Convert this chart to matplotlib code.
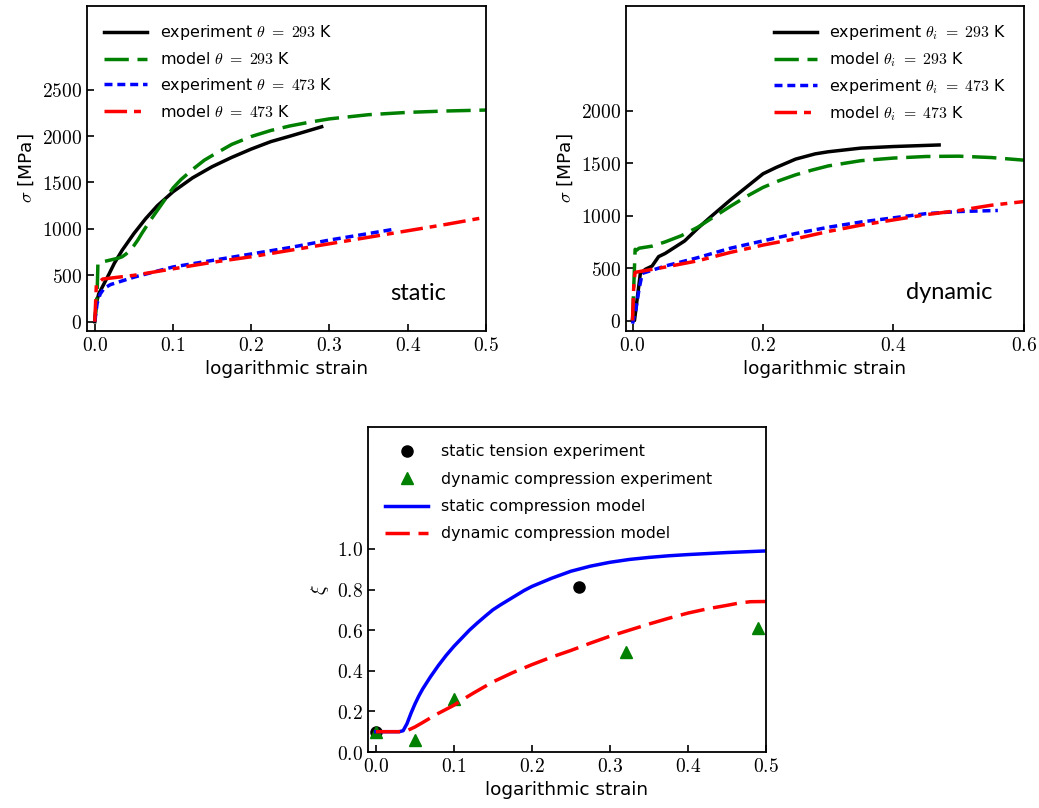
import numpy as np
import matplotlib
matplotlib.use('Agg')
import matplotlib.pyplot as plt
from matplotlib.ticker import FuncFormatter

plt.rcParams['mathtext.fontset'] = 'cm'
plt.rcParams['font.family'] = 'DejaVu Sans'

# static, 293 K
st_exp293_x = [0.0, 0.002, 0.005, 0.01, 0.018, 0.025, 0.035, 0.05, 0.065, 0.08, 0.1, 0.125, 0.15, 0.175, 0.2, 0.225, 0.25, 0.27, 0.29]
st_exp293_y = [0, 200, 300, 380, 510, 630, 770, 950, 1110, 1250, 1400, 1550, 1670, 1770, 1860, 1940, 2000, 2050, 2100]
st_mod293_x = [0.0, 0.003, 0.004, 0.01, 0.02, 0.03, 0.035, 0.04, 0.045, 0.05, 0.055, 0.06, 0.07, 0.08, 0.09, 0.1, 0.11, 0.125, 0.14, 0.15, 0.175, 0.2, 0.225, 0.25, 0.275, 0.3, 0.35, 0.4, 0.45, 0.5]
st_mod293_y = [0, 300, 630, 645, 665, 685, 700, 730, 770, 820, 880, 950, 1080, 1200, 1320, 1440, 1530, 1640, 1740, 1790, 1910, 1995, 2060, 2110, 2150, 2185, 2230, 2255, 2270, 2280]
# static, 473 K
st_exp473_x = [0.0, 0.003, 0.007, 0.012, 0.02, 0.05, 0.1, 0.15, 0.2, 0.25, 0.3, 0.35, 0.385]
st_exp473_y = [0, 200, 300, 360, 400, 480, 590, 660, 730, 800, 880, 950, 1000]
st_mod473_x = [0.0, 0.002, 0.01, 0.05, 0.1, 0.15, 0.2, 0.25, 0.3, 0.35, 0.4, 0.45, 0.5]
st_mod473_y = [0, 400, 460, 500, 570, 640, 700, 770, 840, 910, 980, 1050, 1126]

# dynamic, 293 K
dy_exp293_x = [0.0, 0.003, 0.008, 0.012, 0.02, 0.03, 0.04, 0.05, 0.07, 0.08, 0.1, 0.12, 0.15, 0.18, 0.2, 0.22, 0.25, 0.28, 0.3, 0.35, 0.4, 0.47]
dy_exp293_y = [0, 0, 250, 450, 490, 520, 610, 640, 720, 760, 880, 990, 1150, 1300, 1400, 1460, 1540, 1590, 1610, 1645, 1660, 1675]
dy_mod293_x = [0.0, 0.004, 0.006, 0.01, 0.03, 0.05, 0.075, 0.1, 0.125, 0.15, 0.175, 0.2, 0.225, 0.25, 0.275, 0.3, 0.35, 0.4, 0.45, 0.5, 0.55, 0.6]
dy_mod293_y = [0, 680, 670, 690, 710, 750, 810, 890, 990, 1090, 1185, 1270, 1335, 1390, 1435, 1475, 1525, 1550, 1565, 1568, 1555, 1530]
# dynamic, 473 K
dy_exp473_x = [0.0, 0.005, 0.01, 0.015, 0.03, 0.05, 0.1, 0.15, 0.2, 0.25, 0.3, 0.35, 0.4, 0.45, 0.5, 0.56]
dy_exp473_y = [-30, 100, 300, 450, 480, 520, 600, 690, 760, 830, 890, 940, 980, 1020, 1040, 1050]
dy_mod473_x = [0.0, 0.002, 0.004, 0.05, 0.1, 0.15, 0.2, 0.25, 0.3, 0.35, 0.4, 0.45, 0.5, 0.55, 0.6]
dy_mod473_y = [0, 350, 460, 510, 570, 650, 720, 780, 850, 910, 960, 1010, 1050, 1100, 1135]

# phase fraction xi
tens_exp_x = [0.0, 0.26]
tens_exp_y = [0.1, 0.81]
dyn_exp_x = [0.0, 0.05, 0.1, 0.32, 0.49]
dyn_exp_y = [0.1, 0.06, 0.26, 0.49, 0.61]
st_model_x = [0.0, 0.03, 0.035, 0.04, 0.045, 0.05, 0.055, 0.06, 0.07, 0.08, 0.09, 0.1, 0.11, 0.12, 0.13, 0.14, 0.15, 0.16,
              0.175, 0.19, 0.2, 0.225, 0.25, 0.275, 0.3, 0.325, 0.35, 0.375, 0.4, 0.425, 0.45, 0.475, 0.5]
st_model_y = [0.1, 0.1, 0.105, 0.14, 0.19, 0.235, 0.275, 0.31, 0.37, 0.425, 0.475, 0.52, 0.56, 0.6, 0.635, 0.668, 0.70, 0.725,
              0.76, 0.795, 0.815, 0.855, 0.89, 0.915, 0.934, 0.948, 0.958, 0.966, 0.972, 0.977, 0.982, 0.986, 0.99]
dy_model_x = [0.0, 0.035, 0.04, 0.05, 0.06, 0.07, 0.08, 0.09, 0.1, 0.11, 0.125, 0.15, 0.175, 0.2, 0.225, 0.25, 0.275,
              0.3, 0.325, 0.35, 0.375, 0.4, 0.425, 0.45, 0.465, 0.48, 0.5]
dy_model_y = [0.1, 0.1, 0.105, 0.123, 0.145, 0.168, 0.19, 0.21, 0.23, 0.255, 0.29, 0.345, 0.39, 0.43, 0.467, 0.50, 0.536,
              0.57, 0.60, 0.63, 0.658, 0.684, 0.705, 0.722, 0.733, 0.74, 0.741]

fig = plt.figure(figsize=(10.39, 8.08), dpi=100)
ax1 = fig.add_axes([0.0837, 0.5903, 0.384, 0.4022])
ax2 = fig.add_axes([0.6025, 0.5903, 0.383, 0.4022])
ax3 = fig.add_axes([0.3542, 0.0693, 0.383, 0.4022])


def fmt_int(v, pos):
    return r'$%d$' % v


def fmt_1(v, pos):
    return r'$%.1f$' % v


def style(ax):
    ax.tick_params(direction='in', length=5, width=1.2, labelsize=14, top=False, right=False)
    for s in ax.spines.values():
        s.set_linewidth(1.3)
    ax.set_xlabel('logarithmic strain', fontsize=13.3)


leg_kw = dict(frameon=False, fontsize=11.4, handlelength=2.7, borderaxespad=0.7)
lw = 2.5
d_green = (7, 2.5)
d_blue = (2.3, 1.4)
d_red = (6.5, 2, 2, 2)

# static
ax1.plot(st_exp293_x, st_exp293_y, color='black', lw=lw, label=r'experiment $\theta\ =\ 293$ K')
ax1.plot(st_mod293_x, st_mod293_y, color='green', lw=lw, dashes=d_green, label=r'model $\theta\ =\ 293$ K')
ax1.plot(st_exp473_x, st_exp473_y, color='blue', lw=lw, dashes=d_blue, label=r'experiment $\theta\ =\ 473$ K')
ax1.plot(st_mod473_x, st_mod473_y, color='red', lw=lw, dashes=d_red, label=r'model $\theta\ =\ 473$ K')
ax1.set_xlim(-0.01, 0.5)
ax1.set_ylim(-100, 3400)
ax1.set_xticks([0.0, 0.1, 0.2, 0.3, 0.4, 0.5])
ax1.set_yticks([0, 500, 1000, 1500, 2000, 2500])
ax1.xaxis.set_major_formatter(FuncFormatter(fmt_1))
ax1.yaxis.set_major_formatter(FuncFormatter(fmt_int))
ax1.set_ylabel(r'$\sigma$ [MPa]', fontsize=13.3)
style(ax1)
ax1.legend(loc='upper left', labelspacing=0.55, **leg_kw)
ax1.text(0.9, 0.115, 'static', transform=ax1.transAxes, ha='right', va='center',
         fontsize=17, family='Lato')

# dynamic
ax2.plot(dy_exp293_x, dy_exp293_y, color='black', lw=lw, label=r'experiment $\theta_i\ =\ 293$ K')
ax2.plot(dy_mod293_x, dy_mod293_y, color='green', lw=lw, dashes=d_green, label=r'model $\theta_i\ =\ 293$ K')
ax2.plot(dy_exp473_x, dy_exp473_y, color='blue', lw=lw, dashes=d_blue, label=r'experiment $\theta_i\ =\ 473$ K')
ax2.plot(dy_mod473_x, dy_mod473_y, color='red', lw=lw, dashes=d_red, label=r'model $\theta_i\ =\ 473$ K')
ax2.set_xlim(-0.01, 0.6)
ax2.set_ylim(-100, 3000)
ax2.set_xticks([0.0, 0.2, 0.4, 0.6])
ax2.set_yticks([0, 500, 1000, 1500, 2000])
ax2.xaxis.set_major_formatter(FuncFormatter(fmt_1))
ax2.yaxis.set_major_formatter(FuncFormatter(fmt_int))
ax2.set_ylabel(r'$\sigma$ [MPa]', fontsize=13.3)
style(ax2)
ax2.legend(loc='upper right', labelspacing=0.5, **leg_kw)
ax2.text(0.92, 0.12, 'dynamic', transform=ax2.transAxes, ha='right', va='center',
         fontsize=17, family='Lato')

# phase fraction
ax3.plot(tens_exp_x, tens_exp_y, 'o', color='black', ms=8, label='static tension experiment')
ax3.plot(dyn_exp_x, dyn_exp_y, '^', color='green', ms=8, label='dynamic compression experiment')
ax3.plot(st_model_x, st_model_y, color='blue', lw=lw, label='static compression model')
ax3.plot(dy_model_x, dy_model_y, color='red', lw=lw, dashes=d_green, label='dynamic compression model')
ax3.set_xlim(-0.01, 0.5)
ax3.set_ylim(0, 1.6)
ax3.set_xticks([0.0, 0.1, 0.2, 0.3, 0.4, 0.5])
ax3.set_yticks([0.0, 0.2, 0.4, 0.6, 0.8, 1.0])
ax3.xaxis.set_major_formatter(FuncFormatter(fmt_1))
ax3.yaxis.set_major_formatter(FuncFormatter(fmt_1))
ax3.set_ylabel(r'$\xi$', fontsize=14)
style(ax3)
ax3.legend(loc='upper left', labelspacing=0.78, **leg_kw)

fig.savefig('out.png', dpi=100)
